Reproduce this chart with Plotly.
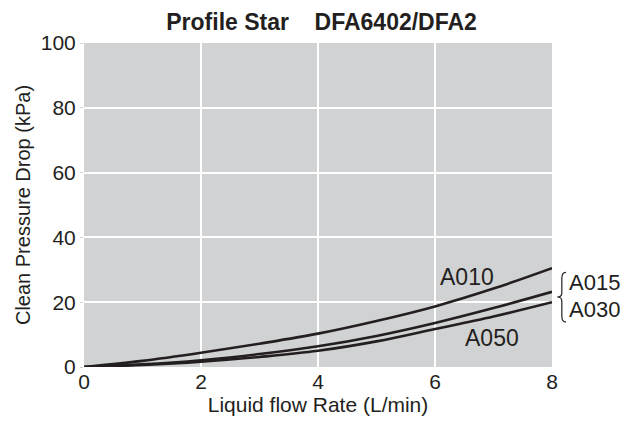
import plotly.graph_objects as go

flow = [0, 1, 2, 3, 4, 5, 6, 7, 8]
a010 = [0, 1.9, 4.4, 7.2, 10.3, 14.2, 18.7, 24.2, 30.5]
a015_a030 = [0, 0.8, 2.1, 4.0, 6.4, 9.6, 13.6, 18.2, 23.2]
a050 = [0, 0.6, 1.6, 3.1, 5.0, 7.9, 11.7, 15.6, 20.0]

x_ticks = [0, 2, 4, 6, 8]
y_ticks = [0, 20, 40, 60, 80, 100]

ink = "#231f20"
font_fam = "Liberation Sans, Arial, Helvetica, sans-serif"

fig = go.Figure()
for ys in (a010, a015_a030, a050):
    fig.add_trace(go.Scatter(x=flow, y=ys, mode="lines", line=dict(color=ink, width=2.6, shape="spline"),
                             hoverinfo="skip", showlegend=False))

fig.add_annotation(x=6.55, y=27.8, text="A010", showarrow=False, font=dict(size=23, color=ink))
fig.add_annotation(x=6.98, y=9.0, text="A050", showarrow=False, font=dict(size=23, color=ink))
fig.add_annotation(x=1.032, y=0.262, xref="paper", yref="paper", text="A015", showarrow=False,
                   xanchor="left", yanchor="middle", font=dict(size=22, color=ink))
fig.add_annotation(x=1.032, y=0.176, xref="paper", yref="paper", text="A030", showarrow=False,
                   xanchor="left", yanchor="middle", font=dict(size=22, color=ink))

# curly brace
xs, xm, xt = 1.021, 1.030, 1.011
yt, ym, yb = 0.292, 0.216, 0.139
d = 0.018
path = (f"M {xm},{yt} Q {xs},{yt} {xs},{yt-d} L {xs},{ym+d*0.7} Q {xs},{ym} {xt},{ym} "
        f"Q {xs},{ym} {xs},{ym-d*0.7} L {xs},{yb+d} Q {xs},{yb} {xm},{yb}")
fig.add_shape(type="path", path=path, xref="paper", yref="paper", line=dict(color=ink, width=1.2))

fig.update_layout(
    width=621, height=415,
    margin=dict(l=76, r=77, t=35, b=56),
    paper_bgcolor="white", plot_bgcolor="#d1d2d4",
    font=dict(family=font_fam, color=ink),
    title=dict(text="<b>Profile Star\u00a0\u00a0\u00a0\u00a0DFA6402/DFA2</b>", x=0.505, xanchor="center",
               y=0.966, yanchor="middle", font=dict(size=23, color=ink)),
    xaxis=dict(range=[0, 8], tickvals=x_ticks, ticktext=[str(v) for v in x_ticks], showgrid=True,
               gridcolor="white", gridwidth=1.5, zeroline=False, showline=False,
               ticks="", tickfont=dict(size=21, color=ink),
               title=dict(text="Liquid flow Rate (L/min)", font=dict(size=21, color=ink), standoff=0)),
    yaxis=dict(range=[0, 100], tickvals=y_ticks, ticktext=[str(v) for v in y_ticks], showgrid=True,
               gridcolor="white", gridwidth=1.5, zeroline=False, showline=False,
               ticks="outside", ticklen=3, tickcolor="#cfcfcf", tickfont=dict(size=21, color=ink),
               title=dict(text="Clean Pressure Drop (kPa)", font=dict(size=20, color=ink), standoff=4)),
)

fig.write_html("out.html")
